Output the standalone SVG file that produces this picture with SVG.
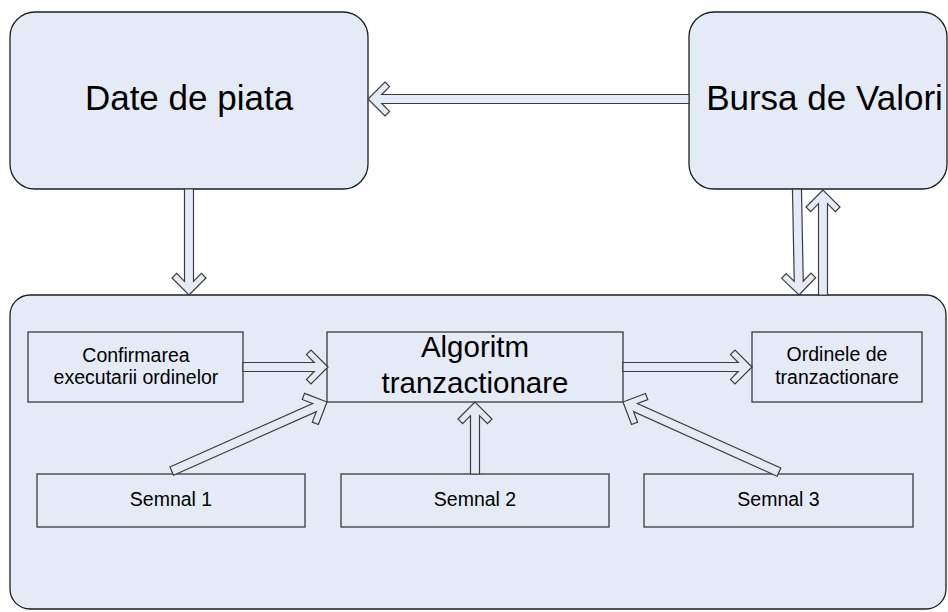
<svg xmlns="http://www.w3.org/2000/svg" width="948" height="612" viewBox="0 0 948 612">
  <style>
    .panel { fill: #e5ebf6; stroke: #1e1e1e; stroke-width: 1.3; }
    .box { fill: #e5ebf6; stroke: #3a3a3a; stroke-width: 1.3; }
    .arrow { fill: #e5ebf6; stroke: #3c3c3c; stroke-width: 1.2; stroke-linejoin: miter; }
    text { font-family: "Liberation Sans", Arial, sans-serif; fill: #000; text-anchor: middle; }
    .big { font-size: 35px; }
    .mid { font-size: 29.5px; }
    .small { font-size: 19.5px; }
  </style>

  <rect width="948" height="612" fill="#ffffff"/>

  <!-- containers -->
  <g id="date-de-piata">
    <rect class="panel" x="10" y="12" width="358" height="177" rx="25" ry="25"/>
    <text class="big" x="189" y="110">Date de piata</text>
  </g>

  <g id="bursa-de-valori">
    <rect class="panel" x="689" y="12" width="258" height="177" rx="25" ry="25"/>
    <text class="big" x="824.5" y="110">Bursa de Valori</text>
  </g>

  <g id="sistem">
    <rect class="panel" x="10" y="295" width="936" height="314" rx="20" ry="20"/>
  </g>

  <!-- inner blocks -->
  <g id="confirmarea">
    <rect class="box" x="28" y="332" width="215" height="70"/>
    <text class="small" x="136" y="362">Confirmarea</text>
    <text class="small" x="136" y="384">executarii ordinelor</text>
  </g>

  <g id="algoritm">
    <rect class="box" x="327" y="332" width="296" height="70"/>
    <text class="mid" x="475" y="357">Algoritm</text>
    <text class="mid" x="475" y="393">tranzactionare</text>
  </g>

  <g id="ordinele">
    <rect class="box" x="752" y="332" width="170" height="70"/>
    <text class="small" x="837" y="361">Ordinele de</text>
    <text class="small" x="837" y="384">tranzactionare</text>
  </g>

  <g id="semnal-1">
    <rect class="box" x="37" y="474" width="268" height="53"/>
    <text class="small" x="171" y="506">Semnal 1</text>
  </g>

  <g id="semnal-2">
    <rect class="box" x="341" y="474" width="268" height="53"/>
    <text class="small" x="475" y="506">Semnal 2</text>
  </g>

  <g id="semnal-3">
    <rect class="box" x="644" y="474" width="269" height="53"/>
    <text class="small" x="778.5" y="506">Semnal 3</text>
  </g>

  <!-- hollow double-line arrows; each drawn pointing +x with its tip at the origin -->
  <g id="connectors">
    <polygon class="arrow" transform="translate(368,99) rotate(180)"
      points="0,0 -17,-17 -21.6,-12.4 -13.7,-4.5 -321,-4.5 -321,4.5 -13.7,4.5 -21.6,12.4 -17,17"/>
    <polygon class="arrow" transform="translate(189,295) rotate(90)"
      points="0,0 -17,-17 -21.6,-12.4 -13.7,-4.5 -106,-4.5 -106,4.5 -13.7,4.5 -21.6,12.4 -17,17"/>
    <polygon class="arrow" transform="translate(799,295) rotate(88.9)"
      points="0,0 -17,-17 -21.6,-12.4 -13.7,-4.5 -106,-4.5 -106,4.5 -13.7,4.5 -21.6,12.4 -17,17"/>
    <polygon class="arrow" transform="translate(823,190) rotate(-90)"
      points="0,0 -17,-17 -21.6,-12.4 -13.7,-4.5 -105,-4.5 -105,4.5 -13.7,4.5 -21.6,12.4 -17,17"/>
    <polygon class="arrow" transform="translate(328,367)"
      points="0,0 -17,-17 -21.6,-12.4 -13.7,-4.5 -85,-4.5 -85,4.5 -13.7,4.5 -21.6,12.4 -17,17"/>
    <polygon class="arrow" transform="translate(752,367)"
      points="0,0 -17,-17 -21.6,-12.4 -13.7,-4.5 -129,-4.5 -129,4.5 -13.7,4.5 -21.6,12.4 -17,17"/>
    <polygon class="arrow" transform="translate(327,402) rotate(-24)"
      points="0,0 -17,-17 -21.6,-12.4 -13.7,-4.5 -170,-4.5 -170,4.5 -13.7,4.5 -21.6,12.4 -17,17"/>
    <polygon class="arrow" transform="translate(475,402) rotate(-90)"
      points="0,0 -17,-17 -21.6,-12.4 -13.7,-4.5 -72,-4.5 -72,4.5 -13.7,4.5 -21.6,12.4 -17,17"/>
    <polygon class="arrow" transform="translate(623,402) rotate(-155.8)"
      points="0,0 -17,-17 -21.6,-12.4 -13.7,-4.5 -171,-4.5 -171,4.5 -13.7,4.5 -21.6,12.4 -17,17"/>
  </g>
</svg>
